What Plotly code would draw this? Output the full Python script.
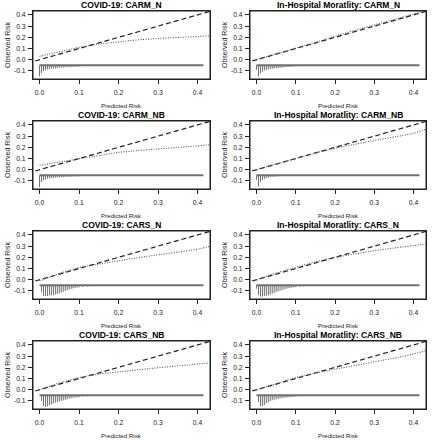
import plotly.graph_objects as go

# ---------------- data ----------------
TITLES = [
    "COVID-19: CARM_N", "In-Hospital Moratlity: CARM_N",
    "COVID-19: CARM_NB", "In-Hospital Moratlity: CARM_NB",
    "COVID-19: CARS_N", "In-Hospital Moratlity: CARS_N",
    "COVID-19: CARS_NB", "In-Hospital Moratlity: CARS_NB",
]
X_TICKS = [0.0, 0.1, 0.2, 0.3, 0.4]
X_TICK_LABELS = ["0.0", "0.1", "0.2", "0.3", "0.4"]
Y_TICKS = [-0.1, 0.0, 0.1, 0.2, 0.3, 0.4]
Y_TICK_LABELS = ["-0.1", "0.0", "0.1", "0.2", "0.3", "0.4"]

# calibration (smoothed observed risk) curves
CURVE_X = [0.0, 0.05, 0.10, 0.15, 0.20, 0.25, 0.30, 0.35, 0.40, 0.43]
CURVE_COVID_CARM_N = [0.030, 0.070, 0.110, 0.140, 0.160, 0.178, 0.190, 0.200, 0.207, 0.212]
CURVE_IH_CARM_N = [0.000, 0.050, 0.100, 0.155, 0.210, 0.262, 0.312, 0.358, 0.405, 0.440]
CURVE_COVID_CARM_NB = [0.040, 0.070, 0.100, 0.130, 0.155, 0.172, 0.187, 0.200, 0.212, 0.222]
CURVE_IH_CARM_NB = [0.000, 0.050, 0.100, 0.150, 0.192, 0.230, 0.262, 0.292, 0.325, 0.360]
CURVE_COVID_CARS_N = [-0.010, 0.055, 0.110, 0.140, 0.170, 0.198, 0.222, 0.248, 0.272, 0.298]
CURVE_IH_CARS_N = [0.000, 0.060, 0.112, 0.160, 0.200, 0.232, 0.260, 0.283, 0.303, 0.318]
CURVE_COVID_CARS_NB = [0.000, 0.060, 0.110, 0.140, 0.160, 0.180, 0.196, 0.212, 0.227, 0.240]
CURVE_IH_CARS_NB = [0.000, 0.052, 0.110, 0.150, 0.182, 0.212, 0.248, 0.282, 0.318, 0.348]

# spike histogram of predicted risk: bin positions and depths below the baseline
SPIKE_X = [0.000, 0.005, 0.010, 0.015, 0.020, 0.025, 0.030, 0.035, 0.040, 0.045,
           0.050, 0.055, 0.060, 0.065, 0.070, 0.075, 0.080, 0.085, 0.090, 0.095,
           0.100, 0.110, 0.120, 0.130, 0.140, 0.150, 0.170, 0.190, 0.210]
SPIKE_COVID_CARM_N = [0.100, 0.070, 0.052, 0.043, 0.037, 0.033, 0.030, 0.028, 0.026, 0.024,
                      0.022, 0.020, 0.019, 0.017, 0.016, 0.015, 0.014, 0.013, 0.012, 0.011,
                      0.010, 0.009, 0.008, 0.007, 0.006, 0.005, 0.004, 0.003, 0.002]
SPIKE_IH_CARM_N = [0.040, 0.100, 0.070, 0.056, 0.048, 0.042, 0.038, 0.034, 0.030, 0.028,
                   0.026, 0.024, 0.022, 0.020, 0.018, 0.016, 0.014, 0.013, 0.012, 0.010,
                   0.009, 0.008, 0.007, 0.006, 0.005, 0.004, 0.003, 0.002, 0.001]
SPIKE_COVID_CARM_NB = [0.105, 0.060, 0.044, 0.036, 0.031, 0.027, 0.025, 0.023, 0.021, 0.019,
                       0.017, 0.016, 0.015, 0.014, 0.013, 0.012, 0.011, 0.010, 0.009, 0.009,
                       0.008, 0.007, 0.006, 0.005, 0.005, 0.004, 0.003, 0.002, 0.002]
SPIKE_IH_CARM_NB = [0.040, 0.100, 0.060, 0.042, 0.032, 0.025, 0.020, 0.016, 0.014, 0.012,
                    0.010, 0.009, 0.008, 0.007, 0.006, 0.006, 0.005, 0.005, 0.004, 0.004,
                    0.003, 0.003, 0.002, 0.002, 0.002, 0.001, 0.001, 0.001, 0.001]
SPIKE_COVID_CARS_N = [0.000, 0.060, 0.095, 0.095, 0.095, 0.090, 0.090, 0.088, 0.083, 0.078,
                      0.072, 0.065, 0.058, 0.050, 0.043, 0.037, 0.032, 0.027, 0.023, 0.020,
                      0.018, 0.014, 0.011, 0.009, 0.007, 0.006, 0.004, 0.003, 0.002]
SPIKE_IH_CARS_N = [0.030, 0.085, 0.100, 0.100, 0.097, 0.093, 0.088, 0.082, 0.075, 0.068,
                   0.060, 0.054, 0.048, 0.042, 0.037, 0.032, 0.028, 0.024, 0.021, 0.018,
                   0.016, 0.012, 0.010, 0.008, 0.006, 0.005, 0.004, 0.003, 0.002]
SPIKE_COVID_CARS_NB = [0.000, 0.050, 0.095, 0.105, 0.098, 0.088, 0.080, 0.072, 0.066, 0.060,
                       0.056, 0.050, 0.045, 0.040, 0.035, 0.030, 0.026, 0.023, 0.020, 0.018,
                       0.016, 0.012, 0.010, 0.008, 0.006, 0.005, 0.004, 0.003, 0.002]
SPIKE_IH_CARS_NB = [0.000, 0.060, 0.098, 0.098, 0.085, 0.072, 0.061, 0.052, 0.045, 0.040,
                    0.036, 0.032, 0.028, 0.025, 0.022, 0.020, 0.018, 0.016, 0.014, 0.012,
                    0.011, 0.009, 0.007, 0.006, 0.005, 0.004, 0.003, 0.002, 0.001]

SPIKE_BASE = -0.05
PRED_MAX = 0.415

CURVES = [CURVE_COVID_CARM_N, CURVE_IH_CARM_N, CURVE_COVID_CARM_NB, CURVE_IH_CARM_NB,
          CURVE_COVID_CARS_N, CURVE_IH_CARS_N, CURVE_COVID_CARS_NB, CURVE_IH_CARS_NB]
SPIKES = [SPIKE_COVID_CARM_N, SPIKE_IH_CARM_N, SPIKE_COVID_CARM_NB, SPIKE_IH_CARM_NB,
          SPIKE_COVID_CARS_N, SPIKE_IH_CARS_N, SPIKE_COVID_CARS_NB, SPIKE_IH_CARS_NB]

# ---------------- layout geometry ----------------
W, H = 433, 440
COL_X = [(33, 210), (250, 426)]
ROW_TOP = [11, 121, 231, 341]
BOX_H = 68
X_RANGE = [-0.0166, 0.4316]
Y_RANGE = [-0.172, 0.435]

FONT = "Liberation Sans, Arial, sans-serif"
fig = go.Figure()
annotations = []
shapes = []

for i in range(8):
    r, c = divmod(i, 2)
    n = i + 1
    xa = "x" if n == 1 else f"x{n}"
    ya = "y" if n == 1 else f"y{n}"
    x0, x1 = COL_X[c]
    top = ROW_TOP[r]
    bot = top + BOX_H

    # spikes
    sx, sy = [], []
    for xv, d in zip(SPIKE_X, SPIKES[i]):
        if d <= 0:
            continue
        sx += [xv, xv, None]
        sy += [SPIKE_BASE, SPIKE_BASE - d, None]
    fig.add_trace(go.Scatter(x=sx, y=sy, mode="lines", xaxis=xa, yaxis=ya,
                             line=dict(color="#6f6f6f", width=1), showlegend=False,
                             hoverinfo="skip"))
    # baseline
    fig.add_trace(go.Scatter(x=[0.0, PRED_MAX], y=[SPIKE_BASE, SPIKE_BASE], mode="lines",
                             xaxis=xa, yaxis=ya, line=dict(color="#707070", width=2),
                             showlegend=False, hoverinfo="skip"))
    # ideal diagonal
    fig.add_trace(go.Scatter(x=[-0.05, 0.5], y=[-0.05, 0.5], mode="lines", xaxis=xa, yaxis=ya,
                             line=dict(color="#222222", width=1.2, dash="5px,3px"),
                             showlegend=False, hoverinfo="skip"))
    # calibration curve
    fig.add_trace(go.Scatter(x=CURVE_X, y=CURVES[i], mode="lines", xaxis=xa, yaxis=ya,
                             line=dict(color="#555555", width=1.1, dash="1px,1.5px"),
                             showlegend=False, hoverinfo="skip"))

    axis_common = dict(showgrid=False, zeroline=False, showline=True, mirror=True,
                       linecolor="#222222", linewidth=1, ticks="outside", ticklen=4,
                       tickwidth=1, tickcolor="#222222",
                       tickfont=dict(family=FONT, size=6.8, color="#222222"))
    fig.update_layout(**{
        ("xaxis" if n == 1 else f"xaxis{n}"): dict(
            domain=[x0 / W, x1 / W], anchor=ya, range=X_RANGE,
            tickvals=X_TICKS, ticktext=X_TICK_LABELS, ticklabelstandoff=3, **axis_common),
        ("yaxis" if n == 1 else f"yaxis{n}"): dict(
            domain=[1 - bot / H, 1 - top / H], anchor=xa, range=Y_RANGE,
            tickvals=Y_TICKS, ticktext=Y_TICK_LABELS, ticklabelstandoff=1, **axis_common),
    })
    shapes.append(dict(type="rect", xref=f"{xa} domain", yref=f"{ya} domain",
                       x0=0, x1=1, y0=0, y1=1, line=dict(color="#222222", width=1),
                       layer="above"))

    cx = (x0 + x1) / 2 / W
    annotations.append(dict(text=f"<b>{TITLES[i]}</b>", x=cx, y=1 - (top - 6) / H,
                            xref="paper", yref="paper", showarrow=False,
                            font=dict(family=FONT, size=8.5, color="#000000"),
                            xanchor="center", yanchor="middle"))
    annotations.append(dict(text="Predicted Risk", x=cx, y=1 - (bot + 26) / H,
                            xref="paper", yref="paper", showarrow=False,
                            font=dict(family=FONT, size=6.2, color="#222222"),
                            xanchor="center", yanchor="middle"))
    annotations.append(dict(text="Observed Risk", x=(x0 - 26) / W, y=1 - (top + bot) / 2 / H,
                            xref="paper", yref="paper", showarrow=False, textangle=-90,
                            font=dict(family=FONT, size=7, color="#222222"),
                            xanchor="center", yanchor="middle"))

fig.update_layout(width=W, height=H, margin=dict(l=0, r=0, t=0, b=0),
                  paper_bgcolor="white", plot_bgcolor="white",
                  annotations=annotations, shapes=shapes, font=dict(family=FONT))
fig.write_html("out.html", config={"displayModeBar": False},
               post_script="document.body.style.margin='0';document.body.style.padding='0';")
